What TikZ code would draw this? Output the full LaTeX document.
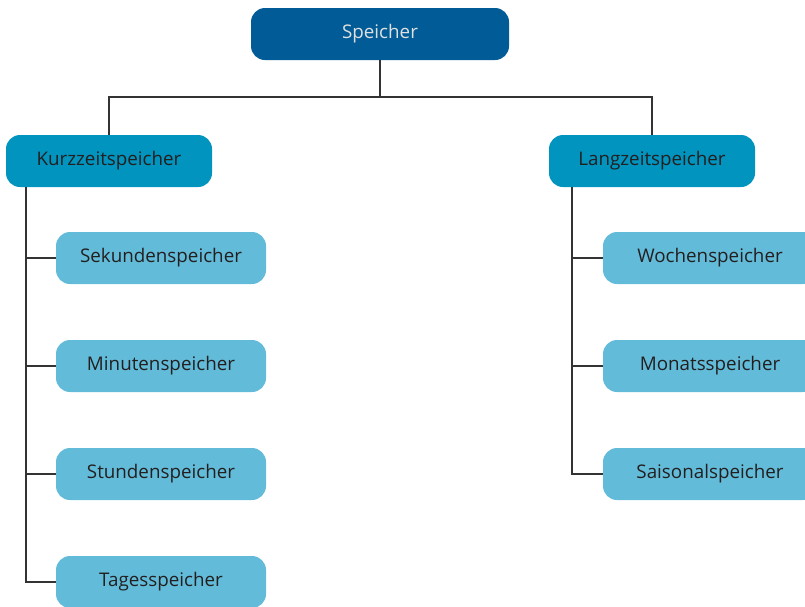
\documentclass[tikz,border=0pt]{standalone}
\usepackage{fontspec}
\setmainfont{Open Sans}
\usepackage{xcolor}
\usetikzlibrary{positioning}

\definecolor{rootblue}{RGB}{0,91,150}
\definecolor{midblue}{RGB}{0,148,190}
\definecolor{lightblue}{RGB}{98,188,217}
\definecolor{linegray}{RGB}{51,51,51}
\definecolor{textdark}{RGB}{35,31,32}

\begin{document}
\begin{tikzpicture}[x=1pt,y=-1pt,font=\fontsize{18.8}{22}\selectfont]
    \tikzstyle{box}=[shape=rectangle,rounded corners=14pt,minimum height=52pt,text=textdark]
    \tikzstyle{root}=[box,fill=rootblue,text=white!88!black,minimum width=258pt]
    \tikzstyle{group}=[box,fill=midblue,minimum width=206pt]
    \tikzstyle{leaf}=[box,fill=lightblue,minimum width=210pt]
    \tikzstyle{link}=[draw=linegray,line width=2pt]

    \useasboundingbox (0,0) rectangle (805,606);

    \node[root] (S) at (380,34) {Speicher};
    \node[group] (K) at (109,161) {Kurzzeitspeicher};
    \node[group] (L) at (652,161) {Langzeitspeicher};

    \node[leaf] (K1) at (161,258) {Sekundenspeicher};
    \node[leaf, below=108pt of K1.center, anchor=center] (K2) {Minutenspeicher};
    \node[leaf, below=108pt of K2.center, anchor=center] (K3) {Stundenspeicher};
    \node[leaf, below=108pt of K3.center, anchor=center] (K4) {Tagesspeicher};

    \node[leaf, minimum width=214pt] (L1) at (710,258) {Wochenspeicher};
    \node[leaf, minimum width=214pt, below=108pt of L1.center, anchor=center] (L2) {Monatsspeicher};
    \node[leaf, minimum width=214pt, below=108pt of L2.center, anchor=center] (L3) {Saisonalspeicher};

    \coordinate (bus) at (380,97);
    \coordinate (Kt) at ([xshift=20pt]K.south west);
    \coordinate (Lt) at ([xshift=23pt]L.south west);

    \path[link]
    (S.south) -- (bus)
    (bus) -| (K.north)
    (bus) -| (L.north)
    (Kt) |- (K4.west)
    (Lt) |- (L3.west);

    \foreach \n in {K1,K2,K3}
        \draw[link] (Kt |- \n.west) -- (\n.west);
    \foreach \n in {L1,L2}
        \draw[link] (Lt |- \n.west) -- (\n.west);
  \end{tikzpicture}
\end{document}
